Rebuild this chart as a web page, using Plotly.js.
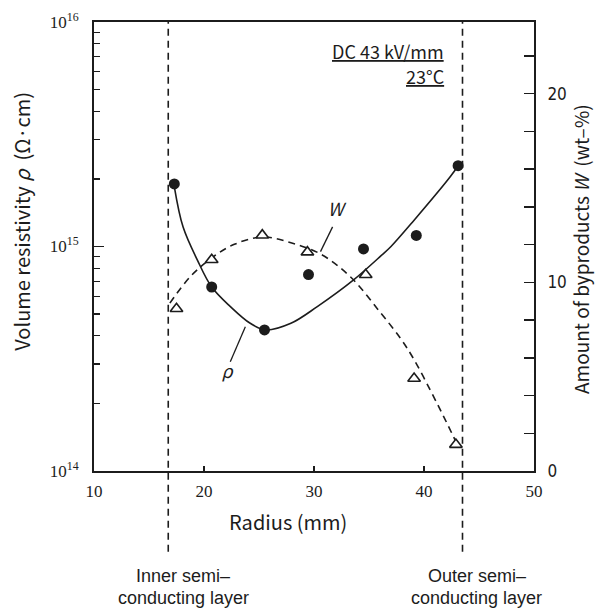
<!DOCTYPE html>
<html><head><meta charset="utf-8">
<script src="https://cdn.plot.ly/plotly-3.0.1.min.js"></script>
<style>html,body{margin:0;padding:0;background:#fff}</style>
</head><body><div id="chart" style="width:595px;height:608px"></div>
<script>
// Measured points: volume resistivity rho (left, log axis)
const rhoX = [17.3, 20.7, 25.5, 29.5, 34.5, 39.3, 43.1];
const rhoY = [1.9e15, 6.6e14, 4.25e14, 7.5e14, 9.75e14, 1.12e15, 2.29e15];
// Measured points: amount of byproducts W (right axis, wt-%)
const wX = [17.5, 20.7, 25.3, 29.4, 34.7, 39.1, 42.9];
const wY = [8.6, 11.2, 12.5, 11.6, 10.4, 4.9, 1.4];
// Fitted curves
const rhoCurveX = [17.3, 18.1, 19.4, 20.7, 22.4, 24.2, 25.6, 27.9, 30.3, 33.6, 36.1, 37.0, 39.1, 42.4, 43.1];
const rhoCurveY = [1.85e15, 1.22e15, 8.7e14, 6.6e14, 5.4e14, 4.55e14, 4.25e14, 4.55e14, 5.4e14, 7.1e14, 9.1e14, 1.0e15, 1.31e15, 2.05e15, 2.29e15];
const wCurveX = [16.9, 18.75, 20.7, 22.7, 25.3, 27.9, 30.6, 33.3, 35.9, 37.9, 39.1, 40.6, 41.8, 42.9];
const wCurveY = [8.9, 10.3, 11.3, 12.0, 12.4, 12.1, 11.5, 10.3, 8.5, 7.0, 5.9, 4.25, 2.87, 1.55];
// Leader lines for curve labels
const rhoLeadX = [23.76, 22.39];
const rhoLeadY = [4.39e14, 3.07e14];
const wLeadX = [31.69, 30.59];
const wLeadY = [12.94, 11.63];
// Curve label positions
const rhoLabel = {x: 22.1, y: 2.72e14, text: 'ρ'};
const wLabel = {x: 31.96, y: 13.75, text: 'W'};
// Semi-conducting layer boundaries (radius, mm)
const layerX = [16.75, 43.5];
const layerLine1 = ['Inner semi–', 'Outer semi–'];
const layerLine2 = ['conducting layer', 'conducting layer'];
const layerLabelX = [18.1, 44.8];
// Axis ticks
const xTicks = [10, 20, 30, 40, 50];
const yTicks = [1e14, 1e15, 1e16];
const yTickText = ['10<sup>14</sup>', '10<sup>15</sup>', '10<sup>16</sup>'];
const yMinor = [2e14,3e14,4e14,5e14,6e14,7e14,8e14,9e14,2e15,3e15,4e15,5e15,6e15,7e15,8e15,9e15];
const y2Ticks = [0,2,4,6,8,10,12,14,16,18,20,22];
const y2TickText = ['0','','','','','10','','','','','20',''];

const ink = '#1c1c1c';
const sans = '"Noto Sans CJK JP", "Noto Sans", sans-serif';
const lsans = '"Liberation Sans", Arial, sans-serif';
const serif = '"Liberation Serif", serif';
const narrow = '"Liberation Sans Narrow", "DejaVu Sans Condensed", sans-serif';

const traces = [
  {x: rhoCurveX, y: rhoCurveY, mode: 'lines', line: {color: ink, width: 1.6, shape: 'spline', smoothing: 1}, yaxis: 'y', hoverinfo: 'skip'},
  {x: wCurveX, y: wCurveY, mode: 'lines', line: {color: ink, width: 1.6, dash: '7px,5px', shape: 'spline', smoothing: 1}, yaxis: 'y2', hoverinfo: 'skip'},
  {x: rhoX, y: rhoY, mode: 'markers', marker: {symbol: 'circle', size: 11, color: ink}, yaxis: 'y'},
  {x: wX, y: wY, mode: 'markers', marker: {symbol: 'triangle-up', size: 11, color: '#fff', line: {color: ink, width: 1.6}}, yaxis: 'y2'},
  {x: rhoLeadX, y: rhoLeadY, mode: 'lines', line: {color: ink, width: 1.3}, yaxis: 'y'},
  {x: wLeadX, y: wLeadY, mode: 'lines', line: {color: ink, width: 1.3}, yaxis: 'y2'},
  {x: [rhoLabel.x], y: [rhoLabel.y], mode: 'text', text: ['<i>' + rhoLabel.text + '</i>'], textfont: {family: sans, size: 18, color: ink}, yaxis: 'y'},
  {x: [wLabel.x], y: [wLabel.y], mode: 'text', text: ['<i>' + wLabel.text + '</i>'], textfont: {family: sans, size: 18, color: ink}, yaxis: 'y2'}
];

const shapes = layerX.map(v => ({type: 'line', xref: 'x', yref: 'paper', x0: v, x1: v, y0: -0.18, y1: 1,
  line: {color: ink, width: 1.6, dash: '7px,5px'}}));

const annotations = [
  {text: 'Radius (mm)', xref: 'paper', yref: 'paper', x: 0.441, y: -0.113, xanchor: 'center', yanchor: 'middle', showarrow: false, font: {family: sans, size: 20, color: ink}},
  {text: 'Volume resistivity <i>ρ</i>  (Ω·cm)', xref: 'paper', yref: 'paper', x: -0.1636, y: 0.555, xanchor: 'center', yanchor: 'middle', textangle: -90, showarrow: false, font: {family: sans, size: 20, color: ink}},
  {text: 'Amount of byproducts <i>W</i>  (wt–%)', xref: 'paper', yref: 'paper', x: 1.104, y: 0.494, xanchor: 'center', yanchor: 'middle', textangle: -90, showarrow: false, font: {family: sans, size: 19, color: ink}},
  {text: '<u>DC 43 kV/mm</u>', xref: 'x', yref: 'paper', x: 41.98, y: 0.935, xanchor: 'right', yanchor: 'middle', showarrow: false, font: {family: sans, size: 18, color: ink}},
  {text: '<u>23°C</u>', xref: 'x', yref: 'paper', x: 41.98, y: 0.88, xanchor: 'right', yanchor: 'middle', showarrow: false, font: {family: sans, size: 18, color: ink}}
];
layerLine1.forEach((t, i) => {
  annotations.push({text: t, xref: 'x', yref: 'paper', x: layerLabelX[i], y: -0.233, borderpad: 0,
    xanchor: 'center', yanchor: 'middle', showarrow: false, font: {family: lsans, size: 18, color: ink}});
  annotations.push({text: layerLine2[i], xref: 'x', yref: 'paper', x: layerLabelX[i], y: -0.2825, borderpad: 0,
    xanchor: 'center', yanchor: 'middle', showarrow: false, font: {family: lsans, size: 18, color: ink}});
});

const layout = {
  width: 595, height: 608,
  margin: {l: 94, r: 61, t: 22, b: 137, pad: 0},
  paper_bgcolor: '#fff', plot_bgcolor: '#fff',
  showlegend: false,
  xaxis: {range: [10, 50], tickvals: xTicks, ticks: 'inside', ticklen: 5, tickwidth: 1.5, tickcolor: ink,
    showline: true, linewidth: 2, linecolor: ink, mirror: true, showgrid: false, zeroline: false,
    ticklabelstandoff: 4, tickfont: {family: serif, size: 17, color: ink}},
  yaxis: {type: 'log', range: [14, 16], tickvals: yTicks, ticktext: yTickText, ticks: 'inside', ticklen: 10, tickwidth: 1.5, tickcolor: ink,
    minor: {tickvals: yMinor, ticks: 'inside', ticklen: 6, tickwidth: 1.3, tickcolor: ink, showgrid: false},
    showline: true, linewidth: 2, linecolor: ink, showgrid: false, zeroline: false,
    ticklabelstandoff: 10, tickfont: {family: serif, size: 17, color: ink}},
  yaxis2: {range: [0, 23.8], overlaying: 'y', side: 'right', tickvals: y2Ticks, ticktext: y2TickText, ticks: 'inside', ticklen: 10, tickwidth: 1.5, tickcolor: ink,
    showline: true, linewidth: 2, linecolor: ink, showgrid: false, zeroline: false,
    ticklabelstandoff: 8, tickfont: {family: narrow, size: 17, color: ink}},
  shapes: shapes,
  annotations: annotations
};

Plotly.newPlot('chart', traces, layout, {staticPlot: true, displayModeBar: false});
</script></body></html>
